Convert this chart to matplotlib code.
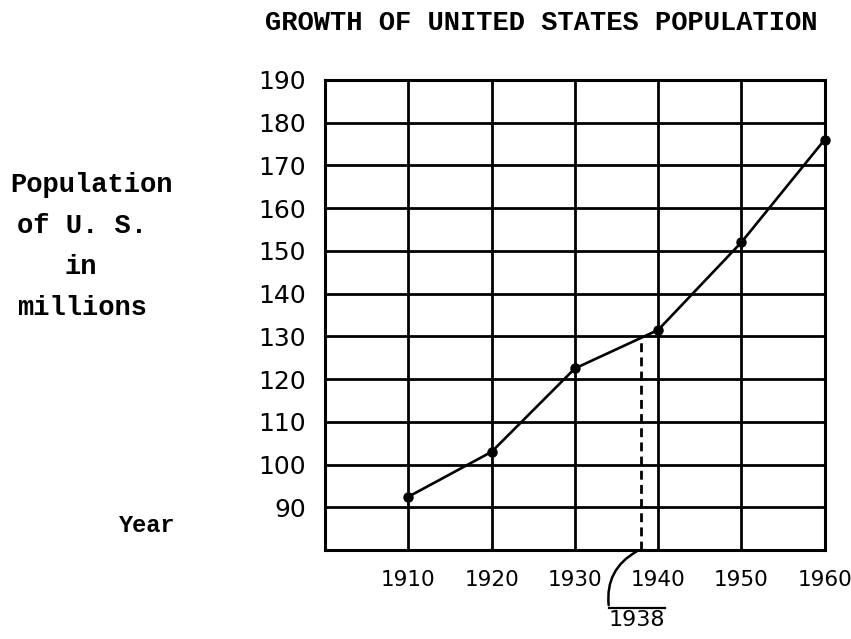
import matplotlib.pyplot as plt

# census years and population (millions) as plotted
years = [1910, 1920, 1930, 1940, 1950, 1960]
population = [92.5, 103, 122.5, 131.5, 152, 176]
y_ticks = [90, 100, 110, 120, 130, 140, 150, 160, 170, 180, 190]
marked_year = 1938

label_lines = ['Population', 'of U. S.', 'in', 'millions']

mono = 'Liberation Mono'

fig = plt.figure(figsize=(8.51, 6.39), dpi=100)
ax = fig.add_axes([0.382, 0.139, 0.587, 0.736])

ax.set_xlim(1900, 1960)
ax.set_ylim(80, 190)
ax.set_xticks(years)
ax.set_yticks(y_ticks)
ax.grid(True, color='black', linewidth=2.0)
ax.set_axisbelow(True)
for s in ax.spines.values():
    s.set_linewidth(2.2)
ax.tick_params(axis='both', length=0)
ax.tick_params(axis='y', pad=14, labelsize=18)
ax.tick_params(axis='x', pad=14, labelsize=15.5)

# population line with dots
ax.plot(years, population, color='black', linewidth=1.9,
        marker='o', markersize=6.5, zorder=5, clip_on=False)

# dashed drop from the line down to the axis at 1938
i = years.index(1930)
frac = (marked_year - years[i]) / (years[i + 1] - years[i])
y_mark = population[i] + frac * (population[i + 1] - population[i])
ax.plot([marked_year, marked_year], [80, y_mark], color='black',
        linewidth=2.0, linestyle=(0, (3.2, 1.9)), zorder=4)

# bracket curving down to the 1938 note
ax.annotate('', xy=(1934.1, 66.5), xytext=(marked_year - 0.3, 80),
            arrowprops=dict(arrowstyle='-', color='black', linewidth=1.8,
                            connectionstyle='arc3,rad=0.35'),
            annotation_clip=False)
ax.plot([1934.1, 1940.8], [66.5, 66.5], color='black', linewidth=1.6,
        clip_on=False)
ax.text(1937.5, 66.0, str(marked_year), ha='center', va='top', fontsize=16,
        clip_on=False)

fig.text(0.636, 0.964, 'GROWTH OF UNITED STATES POPULATION', ha='center',
         va='center', fontsize=19.5, fontweight='bold', family=mono)

label_x = [92, 82, 81, 82]
for k, line in enumerate(label_lines):
    fig.text(label_x[k] / 851, 1 - (185 + 41 * k) / 639, line, ha='center',
             va='center', fontsize=19.5, fontweight='bold', family=mono)

fig.text(147 / 851, 1 - 525 / 639, 'Year', ha='center', va='center',
         fontsize=17, fontweight='bold', family=mono)

fig.savefig('out.png', dpi=100)
